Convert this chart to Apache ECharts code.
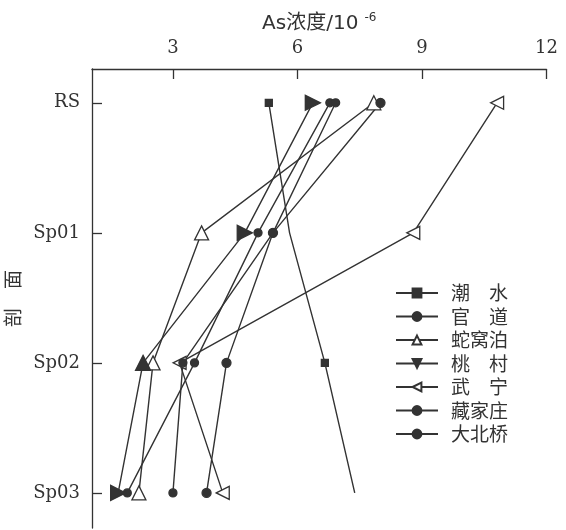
<!DOCTYPE html>
<html>
<head>
<meta charset="utf-8">
<script src="https://cdn.jsdelivr.net/npm/echarts@6/dist/echarts.min.js"></script>
<style>
html,body{margin:0;padding:0;background:#fff;}
#chart{width:566px;height:530px;}
</style>
</head>
<body>
<div id="chart"></div>
<script>
// ---- data ----
const sections = ['RS', 'Sp01', 'Sp02', 'Sp03'];
const xTicks = [3, 6, 9, 12];
const xTitle = 'As浓度/10';
const xTitleSup = '-6';
const yTitle = '剖\u3000面';
const seriesNames = ['潮水', '官道', '蛇窝泊', '桃村', '武宁', '藏家庄', '大北桥'];
const chaoshui      = [5.31, 5.81, 6.66, 7.38];
const guandao       = [6.78, 5.05, 3.52, 1.90];
const shewobo       = [7.84, 3.69, 2.52, 2.18];
const taocun        = [6.37, 4.73, 2.28, 1.68];
const wuning        = [10.81, 8.79, 3.16, 4.20];
const zangjiazhuang = [6.92, 5.41, 3.24, 3.00];
const dabeiqiao     = [8.00, 5.41, 4.29, 3.81];
const seriesValues = [chaoshui, guandao, shewobo, taocun, wuning, zangjiazhuang, dabeiqiao];

// ---- styles ----
const ink = '#333';
const styles = [
  {symbol: 'rect', size: 7, fill: ink, hidden: [1, 3]},
  {symbol: 'circle', size: 8, fill: ink},
  {symbol: 'triangle', size: 14, fill: '#fff'},
  {symbol: 'triangle', size: 15, fill: ink, rotate: 180, pointRotate: [-90, -90, 0, -90]},
  {symbol: 'triangle', size: 13, fill: '#fff', rotate: 90},
  {symbol: 'circle', size: 8, fill: ink},
  {symbol: 'circle', size: 9, fill: ink}
];

const chart = echarts.init(document.getElementById('chart'), null, {renderer: 'canvas'});

const series = seriesNames.map((name, i) => {
  const st = styles[i];
  const data = seriesValues[i].map((v, k) => {
    const item = {value: [v, k]};
    if (st.hidden && st.hidden.indexOf(k) > -1) item.symbol = 'none';
    if (st.pointRotate) item.symbolRotate = st.pointRotate[k];
    return item;
  });
  return {
    name: name,
    type: 'line',
    data: data,
    symbol: st.symbol,
    symbolSize: st.size,
    symbolRotate: st.rotate || 0,
    showAllSymbol: true,
    lineStyle: {color: ink, width: 1.4},
    itemStyle: {color: st.fill, borderColor: ink, borderWidth: 1.3},
    emphasis: {disabled: true},
    z: 2
  };
});

const serif = 'DejaVu Serif';
const cjk = 'Noto Sans CJK SC';

chart.setOption({
  animation: false,
  grid: {left: 92, right: 19.5, top: 69, bottom: 2, containLabel: false, outerBoundsMode: 'none'},
  legend: {
    orient: 'vertical',
    left: 390,
    top: 278,
    itemWidth: 42,
    itemHeight: 11,
    itemGap: 3.5,
    data: seriesNames,
    formatter: n => n.length === 2 ? n[0] + '\u3000' + n[1] : n,
    textStyle: {fontFamily: cjk, fontSize: 19, color: ink, lineHeight: 20, padding: [0, 0, 0, 8]},
    selectedMode: false
  },
  xAxis: {
    type: 'value',
    position: 'top',
    min: 1.05,
    max: 12,
    name: '{a|' + xTitle + '}{s|' + xTitleSup + '}',
    nameLocation: 'middle',
    nameGap: 32,
    nameTextStyle: {
      rich: {
        a: {fontFamily: 'DejaVu Sans, ' + cjk, fontSize: 20, color: ink},
        s: {fontFamily: 'DejaVu Sans', fontSize: 12, color: ink, padding: [0, 0, 12, 6]}
      }
    },
    axisLine: {show: true, onZero: false, lineStyle: {color: ink, width: 1.3}},
    axisTick: {show: true, inside: true, length: 10, customValues: xTicks, lineStyle: {color: ink, width: 1.3}},
    axisLabel: {customValues: xTicks, margin: 12, fontFamily: serif, fontSize: 18, color: ink},
    splitLine: {show: false}
  },
  yAxis: {
    type: 'value',
    inverse: true,
    min: -0.26,
    max: 3.27,
    name: yTitle,
    nameLocation: 'middle',
    nameRotate: 90,
    nameGap: 54,
    nameTextStyle: {fontFamily: cjk, fontSize: 19, color: ink},
    axisLine: {show: true, onZero: false, lineStyle: {color: ink, width: 1.3}},
    axisTick: {show: true, inside: true, length: 10, customValues: [0, 1, 2, 3], lineStyle: {color: ink, width: 1.3}},
    axisLabel: {customValues: [0, 1, 2, 3], formatter: v => sections[v], margin: 12, fontFamily: serif, fontSize: 18, color: ink},
    splitLine: {show: false}
  },
  series: series
});
</script>
</body>
</html>
